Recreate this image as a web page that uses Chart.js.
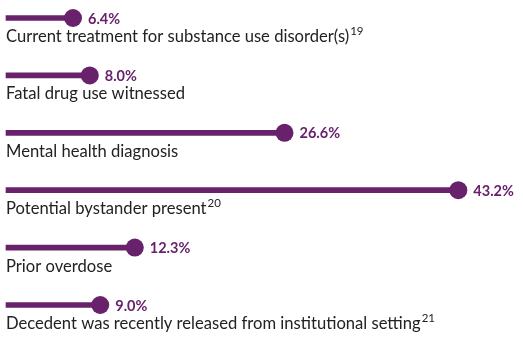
<!DOCTYPE html>
<html>
<head>
<meta charset="utf-8">
<script src="https://cdn.jsdelivr.net/npm/chart.js@4"></script>
<style>
  html, body { margin: 0; padding: 0; background: #fff; }
  #wrap { width: 523px; height: 349px; }
</style>
</head>
<body>
<div id="wrap"><canvas id="chart"></canvas></div>
<script>
// donnees du graphique
const categories = [
  'Current treatment for substance use disorder(s)',
  'Fatal drug use witnessed',
  'Mental health diagnosis',
  'Potential bystander present',
  'Prior overdose',
  'Decedent was recently released from institutional setting'
];
const footnotes = ['19', '', '', '20', '', '21'];
const values = [6.4, 8.0, 26.6, 43.2, 12.3, 9.0];

const purple = '#68216b';
const fontName = 'Lato, "Noto Sans", sans-serif';

// dessine le rond, la valeur et le libelle de chaque barre
const lollipop = {
  id: 'lollipop',
  afterDatasetsDraw(chart) {
    const ctx = chart.ctx;
    const meta = chart.getDatasetMeta(0);
    const left = chart.chartArea.left;
    meta.data.forEach((bar, i) => {
      ctx.save();
      ctx.fillStyle = purple;
      ctx.beginPath();
      ctx.arc(bar.x, bar.y, 9, 0, Math.PI * 2);
      ctx.fill();

      ctx.font = 'bold 14.5px ' + fontName;
      ctx.textBaseline = 'middle';
      ctx.fillText(values[i].toFixed(1) + '%', bar.x + 15, bar.y + 1);

      ctx.fillStyle = '#222';
      ctx.font = '16.6px ' + fontName;
      ctx.textBaseline = 'alphabetic';
      ctx.fillText(categories[i], left, bar.y + 24);
      if (footnotes[i]) {
        const w = ctx.measureText(categories[i]).width;
        ctx.font = '11.5px ' + fontName;
        ctx.fillText(footnotes[i], left + w + 1, bar.y + 17);
      }
      ctx.restore();
    });
  }
};

new Chart(document.getElementById('chart'), {
  type: 'bar',
  data: {
    labels: categories,
    datasets: [{
      data: values,
      backgroundColor: purple,
      barThickness: 5,
      borderSkipped: false,
      clip: false
    }]
  },
  options: {
    indexAxis: 'y',
    responsive: true,
    maintainAspectRatio: false,
    animation: false,
    layout: { padding: { left: 6, right: 5, top: 18, bottom: 44 } },
    plugins: { legend: { display: false }, tooltip: { enabled: false } },
    scales: {
      x: { min: 0, max: 48.9, display: false },
      y: { display: false, offset: false }
    }
  },
  plugins: [lollipop]
});
</script>
</body>
</html>
